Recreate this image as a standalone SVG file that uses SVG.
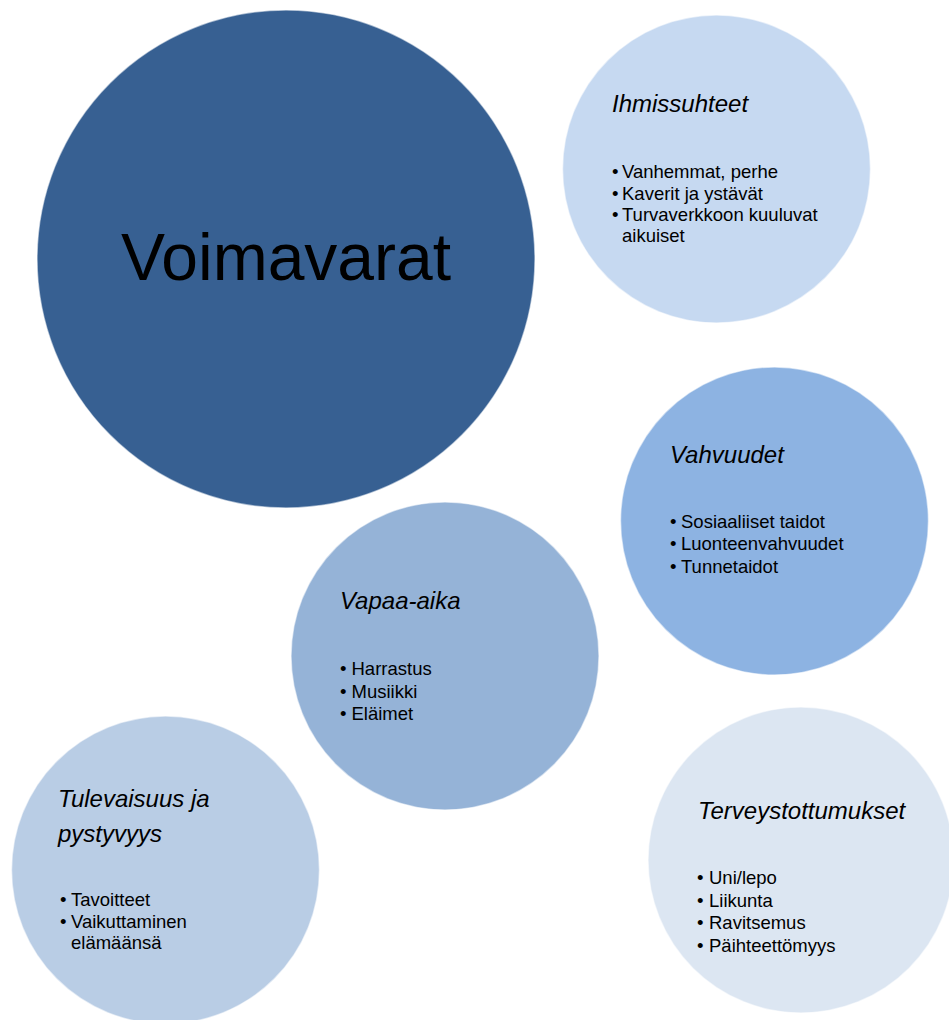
<svg xmlns="http://www.w3.org/2000/svg" width="949" height="1020" viewBox="0 0 949 1020">
<style>
.c{stroke:#ffffff;stroke-opacity:0.55;stroke-width:1.5}
text{font-family:"Liberation Sans",Arial,sans-serif;fill:#000}
.t{font-size:24px;font-style:italic}
.b{font-size:18.5px}
.big{font-size:66px}
</style>
<rect width="949" height="1020" fill="#ffffff"/>
<g id="connectors"></g>
<g id="voimavarat">
<circle class="c" cx="286" cy="259" r="249" fill="#376092"/>
<text class="big" x="286" y="280" text-anchor="middle">Voimavarat</text>
</g>
<g id="ihmissuhteet">
<circle class="c" cx="716.5" cy="169" r="154" fill="#C6D9F1"/>
<text class="t" x="612" y="112">Ihmissuhteet</text>
<text class="b" x="612" y="178">•</text><text class="b" x="622" y="178">Vanhemmat, perhe</text>
<text class="b" x="612" y="199.5">•</text><text class="b" x="622" y="199.5">Kaverit ja ystävät</text>
<text class="b" x="612" y="221">•</text><text class="b" x="622" y="221">Turvaverkkoon kuuluvat</text>
<text class="b" x="622" y="242">aikuiset</text>
</g>
<g id="vahvuudet">
<circle class="c" cx="774.5" cy="521" r="154" fill="#8DB3E2"/>
<text class="t" x="670" y="463">Vahvuudet</text>
<text class="b" x="670" y="528">•</text><text class="b" x="681" y="528">Sosiaaliiset taidot</text>
<text class="b" x="670" y="550">•</text><text class="b" x="681" y="550">Luonteenvahvuudet</text>
<text class="b" x="670" y="572.5">•</text><text class="b" x="681" y="572.5">Tunnetaidot</text>
</g>
<g id="vapaa-aika">
<circle class="c" cx="445" cy="656" r="154" fill="#95B3D7"/>
<text class="t" x="340" y="609">Vapaa-aika</text>
<text class="b" x="340" y="675">•</text><text class="b" x="351.5" y="675">Harrastus</text>
<text class="b" x="340" y="697.5">•</text><text class="b" x="351.5" y="697.5">Musiikki</text>
<text class="b" x="340" y="720">•</text><text class="b" x="351.5" y="720">Eläimet</text>
</g>
<g id="tulevaisuus">
<circle class="c" cx="165.5" cy="870" r="154" fill="#B9CDE5"/>
<text class="t" x="58" y="807">Tulevaisuus ja</text>
<text class="t" x="58" y="841.5">pystyvyys</text>
<text class="b" x="60" y="906">•</text><text class="b" x="71" y="906">Tavoitteet</text>
<text class="b" x="60" y="928">•</text><text class="b" x="71" y="928">Vaikuttaminen</text>
<text class="b" x="71" y="948.5">elämäänsä</text>
</g>
<g id="terveystottumukset">
<circle class="c" cx="801" cy="860" r="153" fill="#DCE6F2"/>
<text class="t" x="698" y="819">Terveystottumukset</text>
<text class="b" x="697" y="884">•</text><text class="b" x="709" y="884">Uni/lepo</text>
<text class="b" x="697" y="906.5">•</text><text class="b" x="709" y="906.5">Liikunta</text>
<text class="b" x="697" y="929">•</text><text class="b" x="709" y="929">Ravitsemus</text>
<text class="b" x="697" y="951.5">•</text><text class="b" x="709" y="951.5">Päihteettömyys</text>
</g>
</svg>
